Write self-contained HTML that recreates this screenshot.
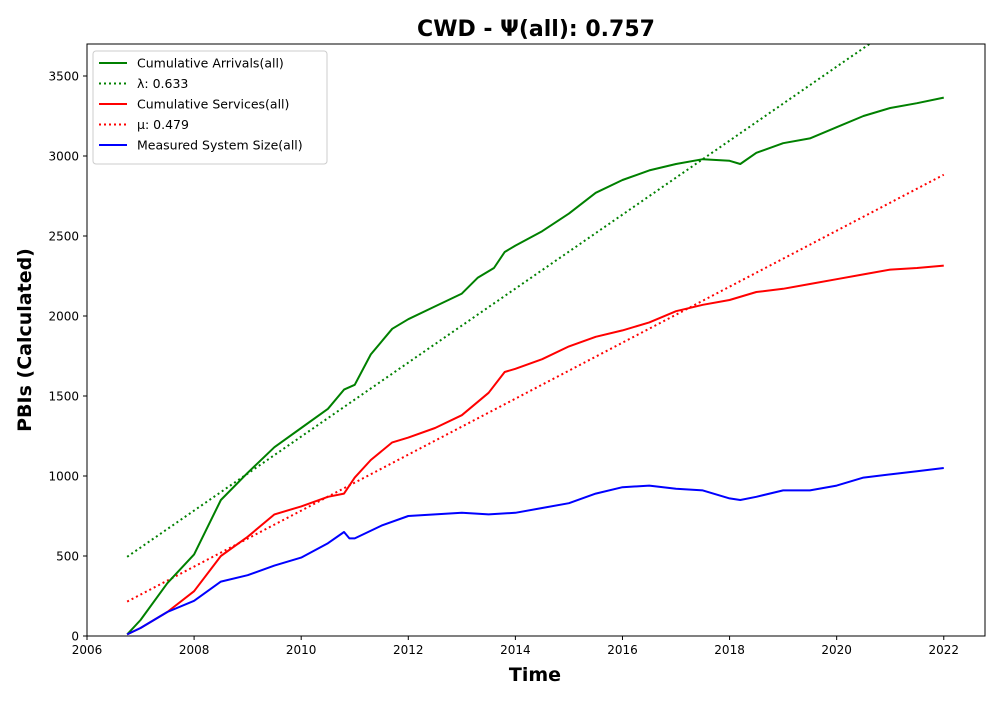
<!DOCTYPE html>
<html><head><meta charset="utf-8"><style>
body{margin:0;background:#fff;font-family:"Liberation Sans","DejaVu Sans",sans-serif}
svg text{font-family:"DejaVu Sans","Liberation Sans",sans-serif}
</style></head><body>
<svg id="chart" width="1000" height="700" viewBox="0 0 1000 700" xmlns="http://www.w3.org/2000/svg">
<defs><clipPath id="clip"><rect x="87" y="44" width="898" height="592"/></clipPath></defs>
<text x="536" y="36" text-anchor="middle" font-size="22" font-weight="bold">CWD -  Ψ(all): 0.757</text>
<g id="series" clip-path="url(#clip)"></g>
<rect x="87" y="44" width="898" height="592" fill="none" stroke="#000" stroke-width="1"/>
<g id="xticks"></g><g id="yticks"></g>
<text x="535" y="681" text-anchor="middle" font-size="19" font-weight="bold">Time</text>
<text transform="translate(31,340) rotate(-90)" text-anchor="middle" font-size="19" font-weight="bold">PBIs (Calculated)</text>
<g id="legend">
<rect x="93" y="51" width="234" height="113" rx="3" fill="#fff" fill-opacity="0.8" stroke="#ccc"/>
</g>
</svg>
<script>
const arrX=[2006.75,2007,2007.5,2008,2008.5,2009,2009.5,2010,2010.5,2010.8,2011,2011.3,2011.7,2012,2012.5,2013,2013.3,2013.6,2013.8,2014,2014.5,2015,2015.5,2016,2016.5,2017,2017.5,2018,2018.2,2018.5,2019,2019.5,2020,2020.5,2021,2021.5,2022];
const arrivals=[10,100,330,510,850,1020,1180,1300,1420,1540,1570,1760,1920,1980,2060,2140,2240,2300,2400,2440,2530,2640,2770,2850,2910,2950,2980,2970,2950,3020,3080,3110,3180,3250,3300,3330,3365];
const srvX=[2006.75,2007,2007.5,2008,2008.5,2009,2009.5,2010,2010.5,2010.8,2011,2011.3,2011.7,2012,2012.5,2013,2013.5,2013.8,2014,2014.5,2015,2015.5,2016,2016.5,2017,2017.5,2018,2018.5,2019,2019.5,2020,2020.5,2021,2021.5,2022];
const services=[10,50,150,280,500,620,760,810,870,890,990,1100,1210,1240,1300,1380,1520,1650,1670,1730,1810,1870,1910,1960,2030,2070,2100,2150,2170,2200,2230,2260,2290,2300,2315];
const sysX=[2006.75,2007,2007.5,2008,2008.5,2009,2009.5,2010,2010.5,2010.8,2010.9,2011,2011.5,2012,2012.5,2013,2013.5,2014,2014.5,2015,2015.5,2016,2016.5,2017,2017.5,2018,2018.2,2018.5,2019,2019.5,2020,2020.5,2021,2021.5,2022];
const systemSize=[10,50,150,220,340,380,440,490,580,650,610,610,690,750,760,770,760,770,800,830,890,930,940,920,910,860,850,870,910,910,940,990,1010,1030,1050];
const lambdaRate=0.633, muRate=0.479;
const lambdaStart=495, muStart=215;
const fitRange=[2006.75,2022];
const xTicks=[2006,2008,2010,2012,2014,2016,2018,2020,2022];
const yTicks=[0,500,1000,1500,2000,2500,3000,3500];

const NS="http://www.w3.org/2000/svg";
const X0=87,X1=985,Y0=636,Y1=44,xmin=2006,xmax=2022.77,ymin=0,ymax=3700;
const sx=v=>X0+(v-xmin)/(xmax-xmin)*(X1-X0);
const sy=v=>Y0-(v-ymin)/(ymax-ymin)*(Y0-Y1);
function mk(tag,attrs,parent){const e=document.createElementNS(NS,tag);for(const k in attrs)e.setAttribute(k,attrs[k]);parent.appendChild(e);return e;}
const S=document.getElementById('series');
function line(xs,ys,color,dash,name){
  const p=mk('polyline',{points:xs.map((x,i)=>sx(x)+','+sy(ys[i])).join(' '),fill:'none',stroke:color,'stroke-width':2,'stroke-dasharray':dash||'none','stroke-linejoin':'round'},S);
  
  
}
const lamY=fitRange.map(x=>lambdaStart+lambdaRate*365.25*(x-fitRange[0]));
const muY=fitRange.map(x=>muStart+muRate*365.25*(x-fitRange[0]));
line(fitRange,lamY,'green','2,3','lambda-line');
line(fitRange,muY,'red','2,3','mu-line');
line(arrX,arrivals,'green',null,'cumulative-arrivals-line');
line(srvX,services,'red',null,'cumulative-services-line');
line(sysX,systemSize,'blue',null,'system-size-line');
const XT=document.getElementById('xticks');
xTicks.forEach(t=>{const x=sx(t);
  const l=mk('line',{x1:x,x2:x,y1:Y0,y2:Y0+4,stroke:'#000'},XT);
  
  const tx=mk('text',{x:x,y:Y0+18,'text-anchor':'middle','font-size':12},XT);tx.textContent=t;
  });
const YT=document.getElementById('yticks');
yTicks.forEach(t=>{const y=sy(t);
  const l=mk('line',{x1:X0-4,x2:X0,y1:y,y2:y,stroke:'#000'},YT);
  
  const tx=mk('text',{x:X0-8,y:y+4.5,'text-anchor':'end','font-size':12},YT);tx.textContent=t;
  });
const L=document.getElementById('legend');
const entries=[['green',null,'Cumulative Arrivals(all)'],['green','2,3','λ: 0.633'],['red',null,'Cumulative Services(all)'],['red','2,3','μ: 0.479'],['blue',null,'Measured System Size(all)']];
entries.forEach((e,i)=>{const y=63+i*20.5;
  const g=mk('g',{},L);
  
  mk('line',{x1:99,x2:127,y1:y,y2:y,stroke:e[0],'stroke-width':2,'stroke-dasharray':e[1]||'none'},g);
  const t=mk('text',{x:137,y:y+4.5,'font-size':12.5},g);t.textContent=e[2];});
</script>
</body></html>
